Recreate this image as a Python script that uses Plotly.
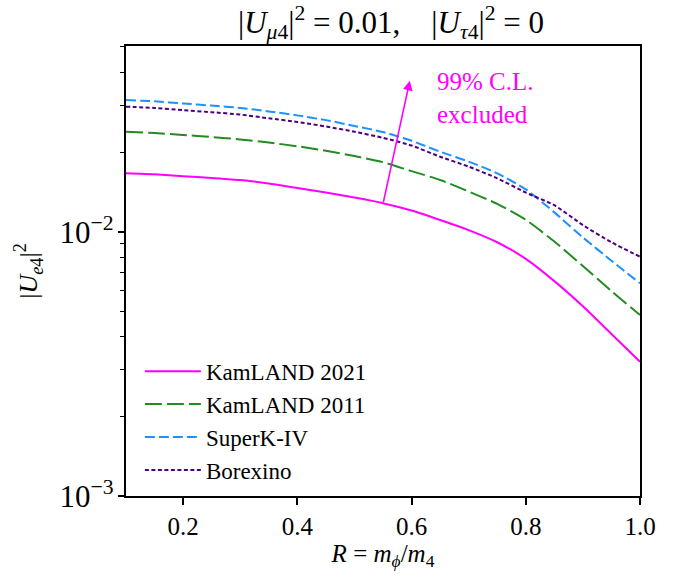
import numpy as np
import plotly.graph_objects as go

# ---- data ----
R = [0.10, 0.15, 0.20, 0.25, 0.30, 0.35, 0.40, 0.45, 0.50, 0.55,
     0.60, 0.65, 0.70, 0.75, 0.80, 0.85, 0.90, 0.95, 1.00]

kamland_2021 = [0.01663, 0.01648, 0.01622, 0.01596, 0.01567, 0.01521, 0.01462,
                0.01406, 0.01346, 0.01282, 0.01202, 0.01107, 0.01014, 0.00912,
                0.00789, 0.00650, 0.00522, 0.00410, 0.00322]
kamland_2011 = [0.02388, 0.02361, 0.02323, 0.02280, 0.02234, 0.02173, 0.02104,
                0.02023, 0.01932, 0.01832, 0.01694, 0.01569, 0.01419, 0.01274,
                0.01109, 0.00918, 0.00741, 0.00596, 0.00484]
superk_iv = [0.03148, 0.03112, 0.03055, 0.02999, 0.02938, 0.02851, 0.02754,
             0.02642, 0.02512, 0.02382, 0.02208, 0.02007, 0.01841, 0.01663,
             0.01445, 0.01183, 0.00951, 0.00776, 0.00638]
borexino = [0.02972, 0.02938, 0.02884, 0.02831, 0.02773, 0.02685, 0.02600,
            0.02500, 0.02388, 0.02265, 0.02118, 0.01921, 0.01762, 0.01592,
            0.01406, 0.01259, 0.01059, 0.00912, 0.00804]

series_names = ["KamLAND 2021", "KamLAND 2011", "SuperK-IV", "Borexino"]
series_values = [kamland_2021, kamland_2011, superk_iv, borexino]

x_ticks = [0.2, 0.4, 0.6, 0.8, 1.0]
x_ticklabels = ["0.2", "0.4", "0.6", "0.8", "1.0"]
y_major = [1e-3, 1e-2]
y_major_labels = ["10<sup>\u22123</sup>", "10<sup>\u22122</sup>"]
y_minor = [2e-3, 3e-3, 4e-3, 5e-3, 6e-3, 7e-3, 8e-3, 9e-3,
           2e-2, 3e-2, 4e-2, 5e-2]

# annotation anchors (R, |U_e4|^2)
arrow_base = (0.55, 0.01274)
arrow_tip = (0.597, 0.03724)
label_pos = (0.641, 0.0320)

# ---- styles ----
colors = ["#ff00ff", "#228b22", "#1e90ff", "#4b0082"]
dashes = ["solid", "17px,5px", "10px,4px", "4px,2.5px"]
FONT = "Liberation Serif"
Y_RANGE = [-3, np.log10(0.0504)]

fig = go.Figure()
for name, vals, c, d in zip(series_names, series_values, colors, dashes):
    fig.add_trace(go.Scatter(x=R, y=vals, mode="lines", name=name,
                             line=dict(color=c, width=2, dash=d,
                                       shape="spline", smoothing=0.6)))

fig.add_annotation(x=arrow_tip[0], y=np.log10(arrow_tip[1]),
                   ax=arrow_base[0], ay=np.log10(arrow_base[1]),
                   xref="x", yref="y", axref="x", ayref="y",
                   showarrow=True, arrowhead=2, arrowsize=1.2, arrowwidth=1.6,
                   arrowcolor="#ff00ff", text="", standoff=0)
fig.add_annotation(x=label_pos[0], y=np.log10(label_pos[1]), xref="x", yref="y",
                   text="99% C.L.<br>excluded", showarrow=False,
                   xanchor="left", yanchor="middle", align="left",
                   font=dict(family=FONT, size=25, color="#ff00ff"))

axis_common = dict(showline=True, linecolor="black", linewidth=1.5, mirror=True,
                   showgrid=False, zeroline=False, ticks="outside",
                   tickcolor="black")

fig.update_xaxes(range=[0.1, 1.0], tickmode="array", tickvals=x_ticks,
                 ticktext=x_ticklabels, tickwidth=1.5, ticklen=7,
                 tickfont=dict(family=FONT, size=25, color="black"),
                 title=dict(text="<i>R</i> = <i>m</i><sub><i>\u03d5</i></sub>/<i>m</i><sub>4</sub>",
                            font=dict(family=FONT, size=25, color="black"),
                            standoff=4),
                 **axis_common)

# main y axis: all decade/minor ticks (short), labels only at decades
y_all = y_major + y_minor
y_all_text = y_major_labels + [""] * len(y_minor)
fig.update_yaxes(type="log", range=Y_RANGE, tickmode="array",
                 tickvals=y_all, ticktext=y_all_text, ticklen=4.5, tickwidth=1.2,
                 tickfont=dict(family=FONT, size=31, color="black"),
                 title=dict(text="|<i>U</i><sub><i>e</i>4</sub>|<sup>2</sup>",
                            font=dict(family=FONT, size=26, color="black"),
                            standoff=14),
                 **axis_common)

# overlay axis carrying the longer major ticks
fig.update_layout(yaxis2=dict(type="log", range=Y_RANGE, overlaying="y", side="left",
                              anchor="x", tickmode="array", tickvals=y_major,
                              showticklabels=False, ticks="outside",
                              ticklen=7, tickwidth=1.5, tickcolor="black",
                              showline=False, showgrid=False, zeroline=False))
fig.add_trace(go.Scatter(x=[None], y=[None], yaxis="y2", showlegend=False,
                         hoverinfo="skip"))

fig.update_layout(
    width=681, height=579,
    margin=dict(l=126, r=41, t=46, b=83),
    plot_bgcolor="white", paper_bgcolor="white",
    title=dict(text="|<i>U</i><sub><i>\u03bc</i>4</sub>|<sup>2</sup> = 0.01,\u00a0\u00a0\u00a0\u00a0|<i>U</i><sub><i>\u03c4</i>4</sub>|<sup>2</sup> = 0",
               x=391 / 681, xanchor="center", y=1 - 22 / 579, yanchor="middle",
               font=dict(family=FONT, size=31, color="black")),
    legend=dict(x=0.027, y=0.325, xanchor="left", yanchor="top",
                bgcolor="rgba(0,0,0,0)", borderwidth=0, itemwidth=56,
                font=dict(family=FONT, size=23, color="black")),
    showlegend=True,
)

fig.write_html("out.html")
